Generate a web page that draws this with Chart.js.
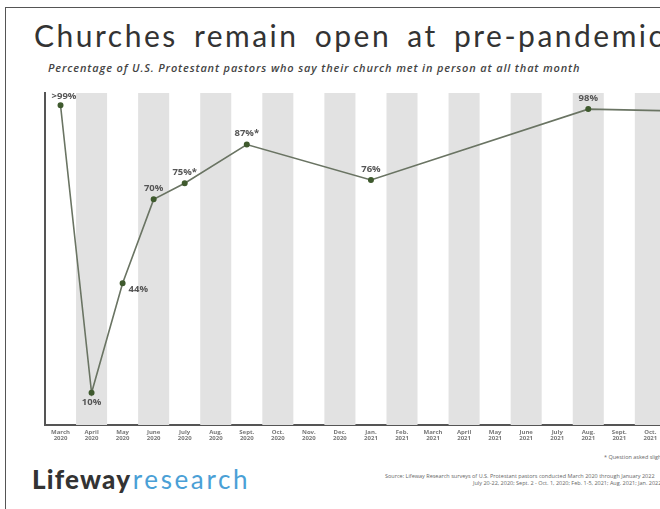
<!DOCTYPE html>
<html>
<head>
<meta charset="utf-8">
<script src="https://cdn.jsdelivr.net/npm/chart.js@4.4.1/dist/chart.umd.min.js"></script>
<style>
  html, body { margin: 0; padding: 0; width: 660px; height: 509px; overflow: hidden; background: #fff; }
  #frame { position: absolute; left: 5px; top: 7px; width: 800px; height: 600px; border: 1px solid #555; box-sizing: border-box; }
  #title { position: absolute; left: 34px; top: 17px; font-family: Lato, sans-serif; font-size: 30px; color: #333; white-space: nowrap; letter-spacing: 2.5px; word-spacing: 6px; }
  #subtitle { position: absolute; left: 48px; top: 60px; font-family: "Open Sans", sans-serif; font-style: italic; font-weight: 600; font-size: 11px; color: #444; white-space: nowrap; letter-spacing: 0.85px; }
  #wrap { position: absolute; left: 0; top: 80px; width: 800px; height: 365px; }
  #logo { position: absolute; left: 32px; top: 463px; font-family: Lato, sans-serif; font-size: 26px; white-space: nowrap; }
  #logo .a { color: #333; font-weight: 900; letter-spacing: 1.2px; }
  #logo .b { color: #4aa0d6; font-weight: 400; letter-spacing: 2.6px; margin-left: -5px; }
  #source { position: absolute; left: 385px; top: 473px; font-family: "Open Sans", sans-serif; font-size: 5.5px; color: #666; line-height: 7px; white-space: nowrap; }
  #source .l2 { padding-left: 88px; }
  #note { position: absolute; left: 604px; top: 453px; font-family: "Open Sans", sans-serif; font-size: 5.5px; color: #666; white-space: nowrap; }
</style>
</head>
<body>
<div id="frame"></div>
<div id="title">Churches remain open at pre-pandemic levels</div>
<div id="subtitle">Percentage of U.S. Protestant pastors who say their church met in person at all that month</div>
<div id="wrap"><canvas id="c" width="800" height="365"></canvas></div>
<div id="note">* Question asked slightly differently</div>
<div id="logo"><span class="a">Lifeway</span> <span class="b">research</span></div>
<div id="source">Source: Lifeway Research surveys of U.S. Protestant pastors conducted March 2020 through January 2022<br><span class="l2">July 20-22, 2020; Sept. 2 - Oct. 1, 2020; Feb. 1-5, 2021; Aug. 2021; Jan. 2022</span></div>
<script>
const months = [
  ['March','2020'],['April','2020'],['May','2020'],['June','2020'],['July','2020'],['Aug.','2020'],
  ['Sept.','2020'],['Oct.','2020'],['Nov.','2020'],['Dec.','2020'],['Jan.','2021'],['Feb.','2021'],
  ['March','2021'],['April','2021'],['May','2021'],['June','2021'],['July','2021'],['Aug.','2021'],
  ['Sept.','2021'],['Oct.','2021'],['Nov.','2021'],['Dec.','2021'],['Jan.','2022']
];
const metInPerson = [99.2, 10, 44, 70, 75, null, 87, null, null, null, 76, null,
  null, null, null, null, null, 98, null, null, null, null, 97];
const pointLabels = ['>99%', '10%', '44%', '70%', '75%*', null, '87%*', null, null, null, '76%', null,
  null, null, null, null, null, '98%', null, null, null, null, '97%'];
const labelPlacement = ['aboveRight', 'below', 'right', 'above', 'above', null, 'above', null, null, null, 'above', null,
  null, null, null, null, null, 'above', null, null, null, null, 'above'];

const bands = {
  id: 'bands',
  beforeDatasetsDraw(chart) {
    const { ctx, chartArea, scales: { x } } = chart;
    const w = x.width / months.length;
    ctx.save();
    ctx.fillStyle = '#e2e2e2';
    for (let i = 1; i < months.length; i += 2) {
      const cx = x.getPixelForValue(i);
      ctx.fillRect(cx - w / 2, chartArea.top, w, chartArea.bottom - chartArea.top);
    }
    ctx.restore();
  }
};

const valueLabels = {
  id: 'valueLabels',
  afterDatasetsDraw(chart) {
    const { ctx } = chart;
    const meta = chart.getDatasetMeta(0);
    ctx.save();
    ctx.font = 'bold 9.5px "Open Sans", sans-serif';
    ctx.fillStyle = '#555';
    ctx.textBaseline = 'middle';
    meta.data.forEach((pt, i) => {
      const t = pointLabels[i];
      if (!t || metInPerson[i] == null) return;
      const p = labelPlacement[i];
      let x = pt.x, y = pt.y;
      ctx.textAlign = 'center';
      if (p === 'above') { y -= 11; }
      else if (p === 'below') { y += 10; }
      else if (p === 'right') { ctx.textAlign = 'left'; x += 6; y += 6; }
      else if (p === 'aboveRight') { ctx.textAlign = 'left'; x -= 9; y -= 9; }
      ctx.fillText(t, x, y);
    });
    ctx.restore();
  }
};

new Chart(document.getElementById('c'), {
  type: 'line',
  data: {
    labels: months,
    datasets: [{
      data: metInPerson,
      borderColor: '#6a7463',
      borderWidth: 1.6,
      pointBackgroundColor: '#3f5a2e',
      pointBorderColor: '#3f5a2e',
      pointRadius: 2.2,
      spanGaps: true,
      tension: 0
    }]
  },
  options: {
    responsive: false,
    animation: false,
    layout: { padding: { left: 45, top: 13, right: 41, bottom: 0 } },
    plugins: { legend: { display: false }, tooltip: { enabled: false } },
    scales: {
      x: {
        offset: true,
        grid: { display: false, drawTicks: false },
        border: { display: true, color: '#555', width: 2 },
        ticks: { autoSkip: false, maxRotation: 0, minRotation: 0, padding: 4,
          color: '#777', font: { family: 'Open Sans', size: 6, weight: 'bold', lineHeight: 1.0 } }
      },
      y: {
        min: 0, max: 103,
        grid: { display: false, drawTicks: false },
        border: { display: true, color: '#555', width: 2 },
        ticks: { display: false }
      }
    }
  },
  plugins: [bands, valueLabels]
});
</script>
</body>
</html>
